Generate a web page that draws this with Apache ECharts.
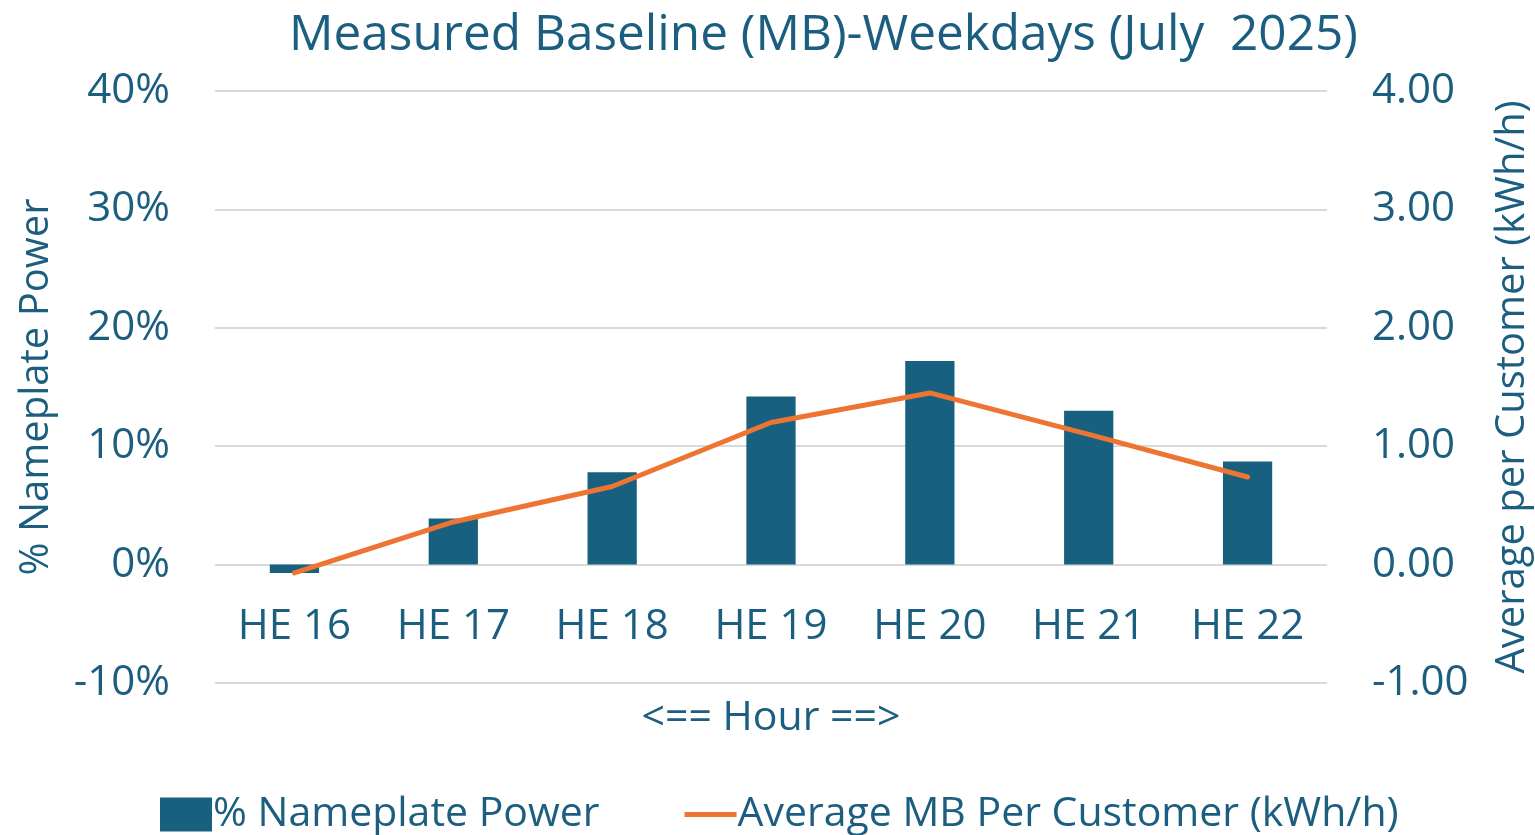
<!DOCTYPE html>
<html>
<head>
<meta charset="utf-8">
<script src="https://cdn.jsdelivr.net/npm/echarts@6/dist/echarts.min.js"></script>
<style>
  html, body { margin: 0; padding: 0; background: #fff; }
  #main { width: 1535px; height: 835px; }
</style>
</head>
<body>
<div id="main"></div>
<script>
// data
const hours = ["HE 16", "HE 17", "HE 18", "HE 19", "HE 20", "HE 21", "HE 22"];
const nameplatePct = [-0.7, 3.9, 7.8, 14.2, 17.2, 13.0, 8.7];
const avgPerCustomer = [-0.07, 0.36, 0.66, 1.2, 1.45, 1.1, 0.74];

const textColor = "#1b5e80";
const barColor = "#17607f";
const lineColor = "#ed7431";
const fontFam = "'Open Sans', sans-serif";

const chart = echarts.init(document.getElementById("main"));

let option = {
  animation: false,
  textStyle: { fontFamily: fontFam, color: textColor },
  title: {
    text: "Measured Baseline (MB)-Weekdays (July  2025)",
    left: 284,
    top: 6,
    textStyle: { fontFamily: fontFam, fontSize: 49.5, fontWeight: "normal", color: textColor },
  },
  grid: { left: 215, right: 208, top: 91, bottom: 152, outerBoundsMode: "none", containLabel: false },
  legend: {
    left: 155,
    bottom: -5,
    itemWidth: 52,
    itemHeight: 34,
    itemGap: 85,
    textStyle: { fontSize: 41, color: textColor, fontFamily: fontFam, padding: [0, 0, 0, -4] },
    data: [
      { name: "% Nameplate Power", icon: "rect" },
      { name: "Average MB Per Customer (kWh/h)", icon: "path://M0,0H10V1H0Z" },
    ],
  },
  xAxis: {
    type: "category",
    data: hours,
    position: "bottom",
    offset: -118,
    name: "<== Hour ==>",
    nameLocation: "middle",
    nameGap: 133,
    nameTextStyle: { fontSize: 41, color: textColor },
    axisLine: { show: false, onZero: false },
    axisTick: { show: false },
    axisLabel: { fontSize: 42, color: textColor, margin: 41 },
  },
  yAxis: [
    {
      type: "value",
      min: -10,
      max: 40,
      interval: 10,
      name: "% Nameplate Power",
      nameLocation: "middle",
      nameGap: 158,
      nameTextStyle: { fontSize: 40, color: textColor },
      axisLabel: { formatter: "{value}%", fontSize: 42, color: textColor, margin: 45 },
      splitLine: { lineStyle: { color: "#d9d9d9", width: 2 } },
      axisLine: { show: false },
      axisTick: { show: false },
    },
    {
      type: "value",
      min: -1,
      max: 4,
      interval: 1,
      name: "Average per Customer (kWh/h)",
      nameLocation: "middle",
      nameGap: 166,
      nameRotate: 90,
      nameTextStyle: { fontSize: 40, color: textColor },
      axisLabel: {
        formatter: (v) => v.toFixed(2),
        fontSize: 42,
        color: textColor,
        margin: 45,
      },
      splitLine: { show: false },
      axisLine: { show: false },
      axisTick: { show: false },
    },
  ],
  series: [
    {
      name: "% Nameplate Power",
      type: "bar",
      data: nameplatePct,
      barWidth: "31%",
      itemStyle: { color: barColor },
    },
    {
      name: "Average MB Per Customer (kWh/h)",
      type: "line",
      yAxisIndex: 1,
      data: avgPerCustomer,
      showSymbol: false,
      symbol: "none",
      lineStyle: { color: lineColor, width: 5, cap: "round", join: "round" },
      itemStyle: { color: lineColor },
    },
  ],
};

chart.setOption(option);
</script>
</body>
</html>
